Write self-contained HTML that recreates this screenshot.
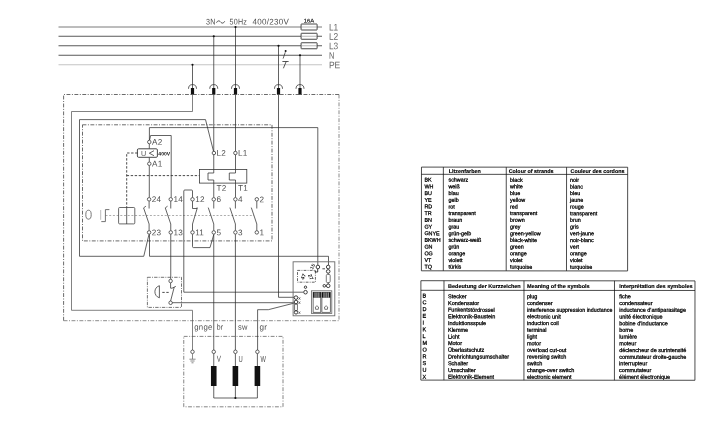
<!DOCTYPE html><html><head><meta charset="utf-8"><title>Wiring diagram</title><style>
html,body{margin:0;padding:0;background:#fff;}body{width:720px;height:424px;overflow:hidden;font-family:"Liberation Sans",sans-serif;}svg{display:block;will-change:transform;}
.w{fill:none;stroke:#2c2c2c;stroke-width:0.74;}
.bus{fill:none;stroke:#7a7a7a;stroke-width:1;}
.pe{fill:none;stroke:#c4c4c4;stroke-width:1;}
.dd{fill:none;stroke:#505050;stroke-width:0.85;stroke-dasharray:3.9 1.5 1 1.5;}
.ds{fill:none;stroke:#2a2a2a;stroke-width:0.85;stroke-dasharray:2.4 1.6;}
.dl{fill:none;stroke:#adadad;stroke-width:1;stroke-dasharray:2 1.7;}
.t{fill:#fff;stroke:#222;stroke-width:0.7;}
.bx{fill:none;stroke:#3a3a3a;stroke-width:0.8;}.t2c{fill:#fff;stroke:#111;stroke-width:.8;}
.k{fill:#111;stroke:none;}
text{font-family:"Liberation Sans",sans-serif;text-rendering:geometricPrecision;}
.lb{font-size:9.5px;fill:#666;}
.lc{font-size:8.2px;fill:#505050;letter-spacing:.25px;}
.tb{font-size:5.4px;fill:#000;stroke:#000;stroke-width:.26;}.t2 .tb,.t2 .th{font-size:5.5px}
.th{font-size:5.4px;fill:#000;font-weight:bold;stroke:#000;stroke-width:.15;}
.tl{fill:none;stroke:#111;stroke-width:0.75;}
</style></head><body>
<svg width="720" height="424" viewBox="0 0 720 424">
<line class="bus" style="stroke:#7a7a7a" x1="58.5" y1="27" x2="322" y2="27"/>
<line class="bus" style="stroke:#5a5a5a" x1="58.5" y1="36.25" x2="322" y2="36.25"/>
<line class="bus" style="stroke:#5a5a5a" x1="58.5" y1="45.75" x2="322" y2="45.75"/>
<line class="bus" style="stroke:#5a5a5a" x1="58.5" y1="55.25" x2="322" y2="55.25"/>
<line class="pe" style="stroke:#c4c4c4" x1="58.5" y1="64.75" x2="322" y2="64.75"/>
<rect x="301.1" y="24" width="16" height="6" rx="0.4" fill="#fff" stroke="#333" stroke-width="0.9"/>
<line class="bus" x1="301.2" y1="27" x2="317" y2="27" style="stroke-width:.7;stroke:#999"/>
<rect x="301.1" y="33.25" width="16" height="6" rx="0.4" fill="#fff" stroke="#333" stroke-width="0.9"/>
<line class="bus" x1="301.2" y1="36.25" x2="317" y2="36.25" style="stroke-width:.7;stroke:#999"/>
<rect x="301.1" y="42.75" width="16" height="6" rx="0.4" fill="#fff" stroke="#333" stroke-width="0.9"/>
<line class="bus" x1="301.2" y1="45.75" x2="317" y2="45.75" style="stroke-width:.7;stroke:#999"/>
<text transform="rotate(0.04 200 200)" class="lb" x="328.8" y="30.4" textLength="9.3" lengthAdjust="spacingAndGlyphs">L1</text>
<text transform="rotate(0.04 200 200)" class="lb" x="328.8" y="39.65" textLength="9.3" lengthAdjust="spacingAndGlyphs">L2</text>
<text transform="rotate(0.04 200 200)" class="lb" x="328.8" y="49.15" textLength="9.3" lengthAdjust="spacingAndGlyphs">L3</text>
<text transform="rotate(0.04 200 200)" class="lb" x="328.8" y="58.65" textLength="5.4" lengthAdjust="spacingAndGlyphs">N</text>
<text transform="rotate(0.04 200 200)" class="lb" x="328.8" y="68.15" textLength="11.4" lengthAdjust="spacingAndGlyphs">PE</text>
<text transform="rotate(0.04 200 200)" class="lc" x="206" y="24.4" textLength="9.6" lengthAdjust="spacingAndGlyphs">3N</text>
<path d="M216.5,22.7 C217.7,20.3 219.3,20.5 220.6,22 C221.8,23.4 223.3,23.8 224.7,21.3" fill="none" stroke="#333" stroke-width="0.85"/>
<text transform="rotate(0.04 200 200)" class="lc" x="229.5" y="24.4" textLength="17.5" lengthAdjust="spacingAndGlyphs">50Hz</text>
<text transform="rotate(0.04 200 200)" class="lc" x="252.5" y="24.4" textLength="36.5" lengthAdjust="spacingAndGlyphs">400/230V</text>
<text transform="rotate(0.04 200 200)" x="303.6" y="22.4" font-size="5.4" fill="#111" stroke="#111" stroke-width=".15" textLength="10.4" lengthAdjust="spacingAndGlyphs">16A</text>
<line class="w" x1="192.5" y1="64.75" x2="192.5" y2="89"/>
<circle cx="192.5" cy="64.75" r="1.1" fill="#111"/>
<path class="w" d="M188.5,88.8 A4,4.2 0 0 1 196.5,88.8"/>
<rect class="k" x="190.9" y="88" width="3.2" height="6.7"/>
<line class="w" x1="213.75" y1="36.25" x2="213.75" y2="89"/>
<circle cx="213.75" cy="36.25" r="1.1" fill="#111"/>
<path class="w" d="M209.75,88.8 A4,4.2 0 0 1 217.75,88.8"/>
<rect class="k" x="212.15" y="88" width="3.2" height="6.7"/>
<line class="w" x1="235.5" y1="27" x2="235.5" y2="89"/>
<circle cx="235.5" cy="27" r="1.1" fill="#111"/>
<path class="w" d="M231.5,88.8 A4,4.2 0 0 1 239.5,88.8"/>
<rect class="k" x="233.9" y="88" width="3.2" height="6.7"/>
<line class="w" x1="278.5" y1="45.75" x2="278.5" y2="89"/>
<circle cx="278.5" cy="45.75" r="1.1" fill="#111"/>
<path class="w" d="M274.5,88.8 A4,4.2 0 0 1 282.5,88.8"/>
<rect class="k" x="276.9" y="88" width="3.2" height="6.7"/>
<line class="w" x1="300" y1="55.25" x2="300" y2="89"/>
<circle cx="300" cy="55.25" r="1.1" fill="#111"/>
<path class="w" d="M296,88.8 A4,4.2 0 0 1 304,88.8"/>
<rect class="k" x="298.4" y="88" width="3.2" height="6.7"/>
<circle cx="285.6" cy="51" r="1" fill="#111"/>
<path class="w" d="M285.3,52.2 L283.1,58.6"/>
<path class="w" style="stroke-width:.8" d="M282.4,61.5 L288.6,61.5 M286.2,61.5 L283.4,68.3"/>
<path class="dd" d="M63.6,320.7 V94.5 H339"/>
<path class="dd" style="stroke:#777" d="M339,94.5 V320.7 H63.6"/>
<path class="dd" d="M82.5,124.8 H272 V240.9 H82.5 Z"/>
<path class="dd" style="stroke:#666;stroke-width:.8" d="M183.75,336.4 H283 V406.8 H183.75 Z"/>
<path class="dd" style="stroke-width:.8;stroke-dasharray:3.4 1.2 0.9 1.2" d="M147.4,277.3 H181.5 V307.4 H147.4 Z"/>
<path class="w" style="stroke:#555" d="M192.5,94.6 V111.5 H71.5 V310.3 H192.5 V350"/>
<path class="w" d="M149,234.3 L143.75,256.3 H79.5 V119.6 H205.5 L213.5,151.2"/>
<path class="w" d="M213.75,94.6 V173 H208 V180 H213.75 V197.4"/>
<path class="w" d="M235.5,94.6 V173 H229.3 V180 H235.5 V197.4"/>
<path class="w" d="M278.5,94.6 V297.3 H294"/>
<path class="w" d="M149.4,140 V127.6 H317.8 V265"/>
<path class="w" d="M149.6,140 L150.6,135.5 H171.2 V197.4"/>
<path class="w" d="M149.3,144 V148.8 M149.3,157.5 V161.8 M149.3,165.7 V197.4"/>
<rect x="137.4" y="148.8" width="20" height="8.5" rx="1.2" fill="#fff" stroke="#333" stroke-width="0.9"/>
<text transform="rotate(0.04 200 200)" x="141" y="156" font-size="7.2" fill="#555">U</text>
<path class="w" d="M154,150.7 L149.3,153.2 L154,155.7"/>
<text transform="rotate(0.04 200 200)" x="158.3" y="155.6" font-size="5" fill="#111" textLength="11.8" lengthAdjust="spacingAndGlyphs" font-weight="bold">400V</text>
<path class="ds" d="M137.5,153 H126.7 V207.5 M126.7,175.6 H199.5"/>
<rect class="bx" x="199.5" y="169.5" width="47.3" height="13.6"/>
<path class="dl" d="M105.5,215.5 H254"/>
<ellipse cx="88.5" cy="214.7" rx="2.7" ry="4.5" fill="none" stroke="#666" stroke-width="0.9"/>
<path d="M100.7,210 V219.8" fill="none" stroke="#aaa" stroke-width="0.8"/>
<path d="M101.3,221.6 H105.4 V209.6 H109.4" fill="none" stroke="#5a5a5a" stroke-width="0.85"/>
<rect x="118.6" y="207.5" width="16.2" height="16.4" rx="1" fill="none" stroke="#444" stroke-width="0.8"/>
<line class="w" x1="126.7" y1="207.5" x2="126.7" y2="224"/>
<line class="w" x1="149.1" y1="201.20000000000002" x2="149.1" y2="208.5"/>
<line class="w" x1="149.1" y1="224" x2="149.1" y2="230.5"/>
<path class="w" d="M149.1,224 L143.6,207.9 L145.9,206.2"/>
<circle class="t" cx="149.1" cy="199.3" r="1.75"/>
<circle class="t" cx="149.1" cy="232.4" r="1.75"/>
<text transform="rotate(0.04 200 200)" class="lc" x="151.79999999999998" y="202.1">24</text>
<text transform="rotate(0.04 200 200)" class="lc" x="151.79999999999998" y="235.2">23</text>
<line class="w" x1="170.75" y1="201.20000000000002" x2="170.75" y2="208.5"/>
<line class="w" x1="170.75" y1="224" x2="170.75" y2="230.5"/>
<path class="w" d="M170.75,224 L165.25,207.9 L167.55,206.2"/>
<circle class="t" cx="170.75" cy="199.3" r="1.75"/>
<circle class="t" cx="170.75" cy="232.4" r="1.75"/>
<text transform="rotate(0.04 200 200)" class="lc" x="173.45" y="202.1">14</text>
<text transform="rotate(0.04 200 200)" class="lc" x="173.45" y="235.2">13</text>
<line class="w" x1="192.5" y1="201.20000000000002" x2="192.5" y2="208.5"/>
<line class="w" x1="192.5" y1="224" x2="192.5" y2="230.5"/>
<path class="w" d="M192.5,208.5 H197.1 V207.4 M192.5,224 L197.2,208.3"/>
<circle class="t" cx="192.5" cy="199.3" r="1.75"/>
<circle class="t" cx="192.5" cy="232.4" r="1.75"/>
<text transform="rotate(0.04 200 200)" class="lc" x="195.2" y="202.1">12</text>
<text transform="rotate(0.04 200 200)" class="lc" x="195.2" y="235.2">11</text>
<line class="w" x1="213.75" y1="201.20000000000002" x2="213.75" y2="208.5"/>
<line class="w" x1="213.75" y1="224" x2="213.75" y2="230.5"/>
<path class="w" d="M213.75,224 L208.25,207.6"/>
<circle class="t" cx="213.75" cy="199.3" r="1.75"/>
<circle class="t" cx="213.75" cy="232.4" r="1.75"/>
<text transform="rotate(0.04 200 200)" class="lc" x="216.45" y="202.1">6</text>
<text transform="rotate(0.04 200 200)" class="lc" x="216.45" y="235.2">5</text>
<line class="w" x1="235.4" y1="201.20000000000002" x2="235.4" y2="208.5"/>
<line class="w" x1="235.4" y1="224" x2="235.4" y2="230.5"/>
<path class="w" d="M235.4,224 L229.9,207.6"/>
<circle class="t" cx="235.4" cy="199.3" r="1.75"/>
<circle class="t" cx="235.4" cy="232.4" r="1.75"/>
<text transform="rotate(0.04 200 200)" class="lc" x="238.1" y="202.1">4</text>
<text transform="rotate(0.04 200 200)" class="lc" x="238.1" y="235.2">3</text>
<line class="w" x1="256.8" y1="201.20000000000002" x2="256.8" y2="208.5"/>
<line class="w" x1="256.8" y1="224" x2="256.8" y2="230.5"/>
<path class="w" d="M256.8,224 L251.3,207.6"/>
<circle class="t" cx="256.8" cy="199.3" r="1.75"/>
<circle class="t" cx="256.8" cy="232.4" r="1.75"/>
<text transform="rotate(0.04 200 200)" class="lc" x="259.5" y="202.1">2</text>
<text transform="rotate(0.04 200 200)" class="lc" x="259.5" y="235.2">1</text>
<circle class="t" cx="149.3" cy="142" r="1.75"/>
<text transform="rotate(0.04 200 200)" class="lc" x="151.9" y="144.8">A2</text>
<circle class="t" cx="149.3" cy="163.75" r="1.75"/>
<text transform="rotate(0.04 200 200)" class="lc" x="151.9" y="166.55">A1</text>
<circle class="t" cx="213.9" cy="153" r="1.75"/>
<text transform="rotate(0.04 200 200)" class="lc" x="216.5" y="155.8">L2</text>
<circle class="t" cx="235.4" cy="153" r="1.75"/>
<text transform="rotate(0.04 200 200)" class="lc" x="238.0" y="155.8">L1</text>
<text transform="rotate(0.04 200 200)" class="lc" x="216.4" y="190.8">T2</text>
<text transform="rotate(0.04 200 200)" class="lc" x="238" y="190.8">T1</text>
<path class="w" d="M192.5,197.4 V191 Q192.5,190 191.5,190 H184.8 Q183.8,190 183.8,191 V292.2 H303.4"/>
<path class="w" d="M192.5,234.3 V246.5 Q192.5,247.6 193.5,247.6 H210 L213.75,234.6"/>
<path class="w" d="M149.5,234.3 V256.3 H328.5 V265"/>
<path class="w" d="M170.75,234.3 V279"/>
<path class="w" d="M213.75,234.3 V350"/>
<path class="w" d="M235.4,234.3 V350"/>
<path class="w" d="M170.6,283 V288.2 H172 L175.8,286.4 M170.6,301 L174.2,287.2"/>
<path class="w" d="M170.6,302.7 H293.6"/>
<circle class="t" cx="170.6" cy="281" r="1.75"/>
<circle class="t" cx="170.6" cy="302.8" r="1.75"/>
<path class="w" d="M159.4,285.7 V297.8 C153.4,296 153.4,287.5 159.4,285.7 Z"/>
<path class="ds" d="M162.3,292.4 H169"/>
<path class="w" d="M295,302.9 L268.3,309.7 H257.6 V350"/>
<line class="w" x1="213.75" y1="353.6" x2="213.75" y2="398"/>
<rect class="k" x="210.95" y="366" width="5.6" height="20"/>
<circle class="t" cx="213.75" cy="351.8" r="1.75"/>
<text transform="rotate(0.04 200 200)" class="lc" style="font-size:8.6px" x="216.85" y="361.8" textLength="4.4" lengthAdjust="spacingAndGlyphs">V</text>
<line class="w" x1="235.4" y1="353.6" x2="235.4" y2="398"/>
<rect class="k" x="232.6" y="366" width="5.6" height="20"/>
<circle class="t" cx="235.4" cy="351.8" r="1.75"/>
<text transform="rotate(0.04 200 200)" class="lc" style="font-size:8.6px" x="238.5" y="361.8" textLength="4.4" lengthAdjust="spacingAndGlyphs">U</text>
<line class="w" x1="257.4" y1="353.6" x2="257.4" y2="398"/>
<rect class="k" x="254.59999999999997" y="366" width="5.6" height="20"/>
<circle class="t" cx="257.4" cy="351.8" r="1.75"/>
<text transform="rotate(0.04 200 200)" class="lc" style="font-size:8.6px" x="260.5" y="361.8" textLength="5.6" lengthAdjust="spacingAndGlyphs">W</text>
<path class="w" d="M213.75,398 H257.4"/>
<circle cx="235.4" cy="398" r="1.1" fill="#111"/>
<circle class="t" cx="192.5" cy="351.8" r="1.75"/>
<path d="M192.5,353.7 V359.2 M189.4,359.2 H195.6 M190.4,361 H194.6 M191.5,362.8 H193.5" fill="none" stroke="#666" stroke-width="0.75"/>
<text transform="rotate(0.04 200 200)" class="lc" x="194.4" y="329.7" textLength="18.3" lengthAdjust="spacingAndGlyphs">gnge</text>
<text transform="rotate(0.04 200 200)" class="lc" x="216.8" y="329.7" textLength="6.6" lengthAdjust="spacingAndGlyphs">br</text>
<text transform="rotate(0.04 200 200)" class="lc" x="238.2" y="329.7" textLength="9.6" lengthAdjust="spacingAndGlyphs">sw</text>
<text transform="rotate(0.04 200 200)" class="lc" x="259.7" y="329.7" textLength="7.7" lengthAdjust="spacingAndGlyphs">gr</text>
<rect x="293.1" y="261.8" width="41.7" height="54" fill="none" stroke="#6a6a6a" stroke-width="0.9"/>
<g style="--k:1" class="sb">
<circle class="t2c" cx="317.9" cy="267" r="1.8"/>
<path class="w" style="stroke:#111;stroke-width:.8" d="M317.7,269 V272 H315.2 V270.4"/>
<text x="310.2" y="268.6" font-size="4.8" font-weight="bold" fill="#111" transform="rotate(-62 312.4 267)">15</text>
<path class="w" style="stroke:#111" d="M322.4,268.8 H325"/>
<circle class="t2c" cx="328.2" cy="267" r="1.8"/>
<circle class="t2c" cx="328.2" cy="271.4" r="1.8"/>
<line class="w" x1="328.2" y1="273.3" x2="328.2" y2="284"/>
<rect x="326.3" y="274.4" width="3.9" height="8.2" rx="1.2" fill="#fff" stroke="#444" stroke-width="0.7"/>
<circle class="t2c" cx="328.2" cy="285.8" r="1.8"/>
<circle class="t2c" cx="324.3" cy="285.8" r="1.3"/>
<rect x="297.5" y="270.4" width="17.9" height="11.8" fill="none" stroke="#333" stroke-width="0.75" stroke-dasharray="2.8 1.2 0.9 1.2"/>
<text x="300.4" y="278.4" font-size="5.2" font-weight="bold" fill="#111" transform="rotate(-68 303.2 276.6)">47</text>
<text x="308" y="278.8" font-size="5.2" font-weight="bold" fill="#111" transform="rotate(68 310.8 277)">27</text>
<circle class="t2c" cx="305.5" cy="287.2" r="1.2"/>
<circle class="t2c" cx="305.5" cy="292.2" r="1.8"/>
<circle class="t2c" cx="296" cy="297.6" r="1.8"/>
<circle class="t2c" cx="296" cy="302" r="1.8"/>
<rect x="294.7" y="304.2" width="2.6" height="6.2" fill="#fff" stroke="#333" stroke-width="0.7"/>
<circle class="t2c" cx="296" cy="312.4" r="1.7"/>
<text transform="rotate(0.04 200 200)" x="298.3" y="299.6" font-size="4.8" fill="#111">x</text>
<text transform="rotate(0.04 200 200)" x="298.3" y="304" font-size="4.8" fill="#111">x</text>
<text transform="rotate(0.04 200 200)" x="298.3" y="314" font-size="4.8" fill="#111">x</text>
</g>
<rect x="311.4" y="290.8" width="20.4" height="22.7" fill="#fff" stroke="#666" stroke-width="0.8"/>
<rect x="313.1" y="292.3" width="7.7" height="20" fill="#fff" stroke="#333" stroke-width="0.7"/>
<rect x="313.1" y="292.3" width="7.7" height="5.4" fill="#111"/>
<line x1="315.02500000000003" y1="292.5" x2="315.02500000000003" y2="297.7" stroke="#fff" stroke-width="0.75"/>
<line x1="316.95000000000005" y1="292.5" x2="316.95000000000005" y2="297.7" stroke="#fff" stroke-width="0.75"/>
<line x1="318.875" y1="292.5" x2="318.875" y2="297.7" stroke="#fff" stroke-width="0.75"/>
<path d="M316.95000000000005,305.8 L318.55000000000007,307 L318.25000000000006,309.3 H315.65000000000003 L315.35,307 Z" fill="#fff" stroke="#222" stroke-width="0.6"/>
<rect x="321.9" y="292.3" width="8.4" height="20" fill="#fff" stroke="#333" stroke-width="0.7"/>
<rect x="321.9" y="292.3" width="8.4" height="5.4" fill="#111"/>
<line x1="324.0" y1="292.5" x2="324.0" y2="297.7" stroke="#fff" stroke-width="0.75"/>
<line x1="326.09999999999997" y1="292.5" x2="326.09999999999997" y2="297.7" stroke="#fff" stroke-width="0.75"/>
<line x1="328.2" y1="292.5" x2="328.2" y2="297.7" stroke="#fff" stroke-width="0.75"/>
<path d="M326.09999999999997,305.8 L327.7,307 L327.4,309.3 H324.79999999999995 L324.49999999999994,307 Z" fill="#fff" stroke="#222" stroke-width="0.6"/>
<g transform="rotate(0.04 560 270)">
<rect class="tl" x="421.4" y="167.2" width="206.20000000000005" height="103.69999999999999"/>
<line class="tl" x1="421.4" y1="174.4" x2="627.6" y2="174.4"/>
<line class="tl" x1="443.3" y1="167.2" x2="443.3" y2="270.9"/>
<line class="tl" x1="506.2" y1="167.2" x2="506.2" y2="270.9"/>
<line class="tl" x1="566.5" y1="167.2" x2="566.5" y2="270.9"/>
<text class="th" x="448.7" y="173">Litzenfarben</text>
<text class="th" x="508.6" y="173">Colour of strands</text>
<text class="th" x="570.5" y="173">Couleur des cordons</text>
<text class="tb" x="424.4" y="181.70">BK</text>
<text class="tb" x="448.4" y="181.70">schwarz</text>
<text class="tb" x="510" y="181.70">black</text>
<text class="tb" x="570" y="181.70">noir</text>
<text class="tb" x="424.4" y="188.39">WH</text>
<text class="tb" x="448.4" y="188.39">weiß</text>
<text class="tb" x="510" y="188.39">white</text>
<text class="tb" x="570" y="188.39">blanc</text>
<text class="tb" x="424.4" y="195.08">BU</text>
<text class="tb" x="448.4" y="195.08">blau</text>
<text class="tb" x="510" y="195.08">blue</text>
<text class="tb" x="570" y="195.08">bleu</text>
<text class="tb" x="424.4" y="201.77">YE</text>
<text class="tb" x="448.4" y="201.77">gelb</text>
<text class="tb" x="510" y="201.77">yellow</text>
<text class="tb" x="570" y="201.77">jaune</text>
<text class="tb" x="424.4" y="208.46">RD</text>
<text class="tb" x="448.4" y="208.46">rot</text>
<text class="tb" x="510" y="208.46">red</text>
<text class="tb" x="570" y="208.46">rouge</text>
<text class="tb" x="424.4" y="215.15">TR</text>
<text class="tb" x="448.4" y="215.15">transparent</text>
<text class="tb" x="510" y="215.15">transparent</text>
<text class="tb" x="570" y="215.15">transparent</text>
<text class="tb" x="424.4" y="221.84">BN</text>
<text class="tb" x="448.4" y="221.84">braun</text>
<text class="tb" x="510" y="221.84">brown</text>
<text class="tb" x="570" y="221.84">brun</text>
<text class="tb" x="424.4" y="228.53">GY</text>
<text class="tb" x="448.4" y="228.53">grau</text>
<text class="tb" x="510" y="228.53">grey</text>
<text class="tb" x="570" y="228.53">gris</text>
<text class="tb" x="424.4" y="235.22">GNYE</text>
<text class="tb" x="448.4" y="235.22">grün-gelb</text>
<text class="tb" x="510" y="235.22">green-yellow</text>
<text class="tb" x="570" y="235.22">vert-jaune</text>
<text class="tb" x="424.4" y="241.91">BKWH</text>
<text class="tb" x="448.4" y="241.91">schwarz-weiß</text>
<text class="tb" x="510" y="241.91">black-white</text>
<text class="tb" x="570" y="241.91">noir-blanc</text>
<text class="tb" x="424.4" y="248.60">GN</text>
<text class="tb" x="448.4" y="248.60">grün</text>
<text class="tb" x="510" y="248.60">green</text>
<text class="tb" x="570" y="248.60">vert</text>
<text class="tb" x="424.4" y="255.29">OG</text>
<text class="tb" x="448.4" y="255.29">orange</text>
<text class="tb" x="510" y="255.29">orange</text>
<text class="tb" x="570" y="255.29">orange</text>
<text class="tb" x="424.4" y="261.98">VT</text>
<text class="tb" x="448.4" y="261.98">violett</text>
<text class="tb" x="510" y="261.98">violet</text>
<text class="tb" x="570" y="261.98">violet</text>
<text class="tb" x="424.4" y="268.67">TQ</text>
<text class="tb" x="448.4" y="268.67">türkis</text>
<text class="tb" x="510" y="268.67">turquoise</text>
<text class="tb" x="570" y="268.67">turquoise</text>
</g><g class="t2" transform="rotate(0.04 560 270)">
<rect class="tl" x="420.9" y="280.8" width="274.1" height="99.39999999999998"/>
<line class="tl" x1="420.9" y1="290.4" x2="695" y2="290.4"/>
<line class="tl" x1="444" y1="280.8" x2="444" y2="380.2"/>
<line class="tl" x1="524" y1="280.8" x2="524" y2="380.2"/>
<line class="tl" x1="614.5" y1="280.8" x2="614.5" y2="380.2"/>
<text class="th" x="448" y="288">Bedeutung der Kurzzeichen</text>
<text class="th" x="527" y="288">Meaning of the symbols</text>
<text class="th" x="619.2" y="288">Interprétation des symboles</text>
<text class="tb" x="422.6" y="297.50">B</text>
<text class="tb" x="448" y="298.30">Stecker</text>
<text class="tb" x="527" y="298.30">plug</text>
<text class="tb" x="619.2" y="298.30">fiche</text>
<text class="tb" x="422.6" y="304.27">C</text>
<text class="tb" x="448" y="305.00">Kondensator</text>
<text class="tb" x="527" y="305.00">condenser</text>
<text class="tb" x="619.2" y="305.00">condensateur</text>
<text class="tb" x="422.6" y="311.04">D</text>
<text class="tb" x="448" y="311.70">Funkentstördrossel</text>
<text class="tb" x="527" y="311.70" textLength="85.4" lengthAdjust="spacingAndGlyphs">interference suppression inductance</text>
<text class="tb" x="619.2" y="311.70">inductance d'antiparasitage</text>
<text class="tb" x="422.6" y="317.81">E</text>
<text class="tb" x="448" y="318.40">Elektronik-Baustein</text>
<text class="tb" x="527" y="318.40">electronic unit</text>
<text class="tb" x="619.2" y="318.40">unité électronique</text>
<text class="tb" x="422.6" y="324.58">I</text>
<text class="tb" x="448" y="325.10">Induktionsspule</text>
<text class="tb" x="527" y="325.10">induction coil</text>
<text class="tb" x="619.2" y="325.10">bobine d'inductance</text>
<text class="tb" x="422.6" y="331.35">K</text>
<text class="tb" x="448" y="331.80">Klemme</text>
<text class="tb" x="527" y="331.80">terminal</text>
<text class="tb" x="619.2" y="331.80">borne</text>
<text class="tb" x="422.6" y="338.12">L</text>
<text class="tb" x="448" y="338.50">Licht</text>
<text class="tb" x="527" y="338.50">light</text>
<text class="tb" x="619.2" y="338.50">lumière</text>
<text class="tb" x="422.6" y="344.89">M</text>
<text class="tb" x="448" y="345.20">Motor</text>
<text class="tb" x="527" y="345.20">motor</text>
<text class="tb" x="619.2" y="345.20">moteur</text>
<text class="tb" x="422.6" y="351.66">O</text>
<text class="tb" x="448" y="351.90">Überlastschutz</text>
<text class="tb" x="527" y="351.90">overload cut-out</text>
<text class="tb" x="619.2" y="351.90">déclencheur de surintensité</text>
<text class="tb" x="422.6" y="358.43">R</text>
<text class="tb" x="448" y="358.60">Drehrichtungsumschalter</text>
<text class="tb" x="527" y="358.60">reversing switch</text>
<text class="tb" x="619.2" y="358.60">commutateur droite-gauche</text>
<text class="tb" x="422.6" y="365.20">S</text>
<text class="tb" x="448" y="365.30">Schalter</text>
<text class="tb" x="527" y="365.30">switch</text>
<text class="tb" x="619.2" y="365.30">interrupteur</text>
<text class="tb" x="422.6" y="371.97">U</text>
<text class="tb" x="448" y="372.00">Umschalter</text>
<text class="tb" x="527" y="372.00">change-over switch</text>
<text class="tb" x="619.2" y="372.00">commutateur</text>
<text class="tb" x="422.6" y="378.74">X</text>
<text class="tb" x="448" y="378.70">Elektronik-Element</text>
<text class="tb" x="527" y="378.70">electronic element</text>
<text class="tb" x="619.2" y="378.70">élément électronique</text>
</g>
</svg></body></html>
